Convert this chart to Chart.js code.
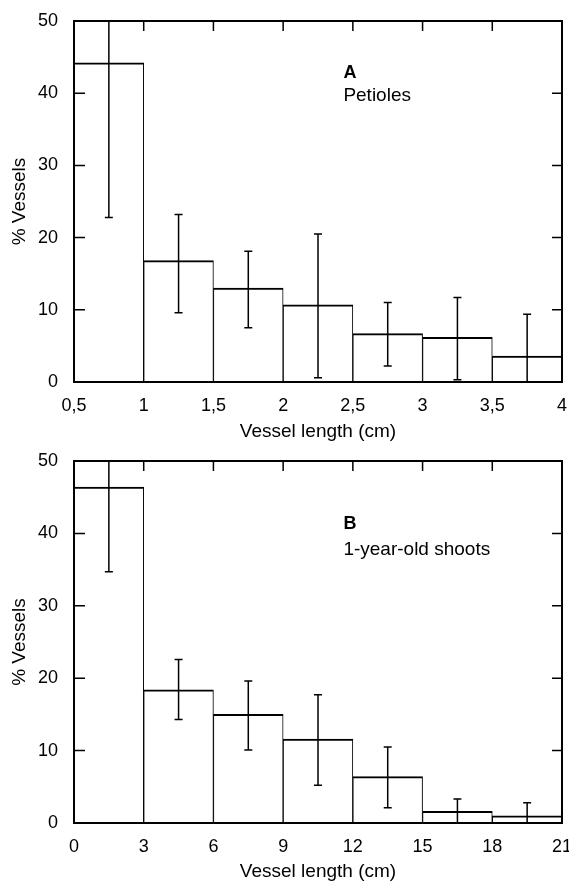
<!DOCTYPE html>
<html>
<head>
<meta charset="utf-8">
<script src="https://cdn.jsdelivr.net/npm/chart.js@4.4.1/dist/chart.umd.min.js"></script>
<style>
  body { margin: 0; background: #fff; }
  .panel { position: absolute; left: 0; width: 569px; }
</style>
</head>
<body>
<div class="panel" style="top:0;height:446px"><canvas id="chartA" width="569" height="446"></canvas></div>
<div class="panel" style="top:446px;height:440px"><canvas id="chartB" width="569" height="440"></canvas></div>
<script>
// Panel A - petioles (bin centres, cm)
const petioleBins = [0.75, 1.25, 1.75, 2.25, 2.75, 3.25, 3.75];
const petioleValues = [44.2, 16.8, 13.0, 10.7, 6.7, 6.2, 3.6];
const petioleErrLow = [22.8, 9.6, 7.5, 0.6, 2.2, 0.3, -2.2];
const petioleErrHigh = [65.6, 23.2, 18.1, 20.5, 11.0, 11.7, 9.4];
const petioleTicks = [0.5, 1, 1.5, 2, 2.5, 3, 3.5, 4];

// Panel B - 1-year-old shoots
const shootBins = [1.5, 4.5, 7.5, 10.5, 13.5, 16.5, 19.5];
const shootValues = [46.4, 18.4, 15.0, 11.6, 6.4, 1.6, 1.0];
const shootErrLow = [34.7, 14.3, 10.1, 5.2, 2.1, -0.1, -0.8];
const shootErrHigh = [58.1, 22.6, 19.6, 17.7, 10.5, 3.3, 2.8];
const shootTicks = [0, 3, 6, 9, 12, 15, 18, 21];

const yTicks = [0, 10, 20, 30, 40, 50];

const FONT = 'Liberation Sans, Arial, Helvetica, sans-serif';

// frame, inward ticks, error bars and the panel label
const panelPlugin = {
    id: 'panel',
    afterDatasetsDraw(chart, args, opts) {
        const ctx = chart.ctx;
        const area = chart.chartArea;
        const x = chart.scales.x;
        const y = chart.scales.y;

        // error bars
        ctx.save();
        ctx.beginPath();
        ctx.rect(area.left, area.top, area.right - area.left, area.bottom - area.top);
        ctx.clip();
        ctx.strokeStyle = '#000';
        ctx.lineWidth = 1.5;
        opts.centers.forEach((c, i) => {
            const px = x.getPixelForValue(c);
            const lo = y.getPixelForValue(opts.low[i]);
            const hi = y.getPixelForValue(opts.high[i]);
            ctx.beginPath();
            ctx.moveTo(px, lo);
            ctx.lineTo(px, hi);
            ctx.moveTo(px - 4, lo);
            ctx.lineTo(px + 4, lo);
            ctx.moveTo(px - 4, hi);
            ctx.lineTo(px + 4, hi);
            ctx.stroke();
        });
        ctx.restore();

        // frame with inward ticks
        ctx.save();
        ctx.strokeStyle = '#000';
        ctx.lineWidth = 2;
        ctx.strokeRect(area.left, area.top, area.right - area.left, area.bottom - area.top);
        ctx.lineWidth = 1.5;
        ctx.beginPath();
        yTicks.forEach(v => {
            const py = y.getPixelForValue(v);
            ctx.moveTo(area.left, py);
            ctx.lineTo(area.left + 11, py);
            ctx.moveTo(area.right, py);
            ctx.lineTo(area.right - 10, py);
        });
        opts.ticks.forEach(v => {
            const px = x.getPixelForValue(v);
            ctx.moveTo(px, area.top);
            ctx.lineTo(px, area.top + 10);
        });
        ctx.stroke();

        // panel label
        ctx.fillStyle = '#000';
        ctx.textBaseline = 'top';
        ctx.textAlign = 'left';
        const lx = area.left + (area.right - area.left) * 0.552;
        ctx.font = 'bold 18px ' + FONT;
        ctx.fillText(opts.letter, lx, area.top + opts.labelTop);
        ctx.font = '19px ' + FONT;
        ctx.fillText(opts.caption, lx, area.top + opts.labelTop + opts.gap);
        ctx.restore();
    }
};

function makePanel(id, bins, values, low, high, ticks, xmin, xmax, fmt, extra) {
    return new Chart(document.getElementById(id), {
        type: 'bar',
        data: {
            datasets: [{
                data: bins.map((b, i) => ({ x: b, y: values[i] })),
                backgroundColor: '#fff',
                borderColor: '#000',
                borderWidth: { top: 2, left: 1, right: 1, bottom: 0 },
                borderSkipped: false,
                barPercentage: 1,
                categoryPercentage: 1
            }]
        },
        options: {
            responsive: false,
            animation: false,
            layout: {
                autoPadding: false,
                padding: { left: 0, right: 7, top: extra.top, bottom: 0 }
            },
            plugins: {
                legend: { display: false },
                tooltip: { enabled: false },
                panel: {
                    centers: bins, low: low, high: high, ticks: ticks,
                    letter: extra.letter, caption: extra.caption,
                    labelTop: extra.labelTop, gap: extra.gap
                }
            },
            scales: {
                x: {
                    type: 'linear',
                    min: xmin,
                    max: xmax,
                    offset: false,
                    grid: { display: false, drawTicks: false, offset: false },
                    border: { display: false },
                    afterFit: s => {
                        s.height = extra.xHeight;
                        s.paddingLeft = 0;
                        s.paddingRight = 0;
                    },
                    afterBuildTicks: s => { s.ticks = ticks.map(v => ({ value: v })); },
                    ticks: {
                        color: '#000',
                        padding: 13,
                        maxRotation: 0,
                        autoSkip: false,
                        font: { family: FONT, size: 18 },
                        callback: v => fmt(v)
                    },
                    title: {
                        display: true,
                        text: 'Vessel length (cm)',
                        color: '#000',
                        font: { family: FONT, size: 19 },
                        padding: { top: 0, bottom: 3 }
                    }
                },
                y: {
                    min: 0,
                    max: 50,
                    grid: { display: false, drawTicks: false },
                    border: { display: false },
                    afterFit: s => {
                        s.width = 74;
                        s.paddingTop = 0;
                        s.paddingBottom = 0;
                    },
                    afterBuildTicks: s => { s.ticks = yTicks.map(v => ({ value: v })); },
                    ticks: {
                        color: '#000',
                        padding: 16,
                        font: { family: FONT, size: 18 }
                    },
                    title: {
                        display: true,
                        text: '% Vessels',
                        color: '#000',
                        font: { family: FONT, size: 19 },
                        padding: { top: 8, bottom: 0 }
                    }
                }
            }
        },
        plugins: [panelPlugin]
    });
}

makePanel('chartA', petioleBins, petioleValues, petioleErrLow, petioleErrHigh, petioleTicks,
    0.5, 4, v => String(v).replace('.', ','),
    { top: 21, xHeight: 64, letter: 'A', caption: 'Petioles', labelTop: 43, gap: 22 });

makePanel('chartB', shootBins, shootValues, shootErrLow, shootErrHigh, shootTicks,
    0, 21, v => String(v),
    { top: 15, xHeight: 63, letter: 'B', caption: '1-year-old shoots', labelTop: 54, gap: 25 });
</script>
</body>
</html>
